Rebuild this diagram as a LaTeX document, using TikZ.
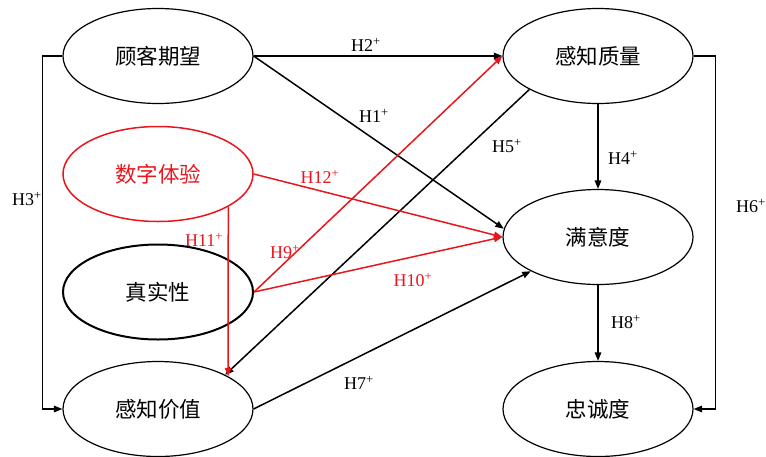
\documentclass[tikz,border=0pt]{standalone}
\usepackage{fontspec}
\setmainfont{Liberation Serif}
\newfontfamily\cjk{Noto Sans CJK SC}
\usetikzlibrary{shapes.geometric,arrows.meta}
\definecolor{myred}{RGB}{232,22,28}
\begin{document}
\begin{tikzpicture}[x=1pt,y=-1pt,
  var/.style={ellipse,draw,line width=1.2pt,minimum width=190pt,minimum height=95pt,inner sep=0pt,font=\cjk\fontsize{21.5}{24}\selectfont},
  lnk/.style={line width=1.5pt,-{Triangle[length=8.5pt,width=6.5pt]}},
  redlnk/.style={lnk,draw=myred},
  hl/.style={inner sep=0pt,font=\fontsize{18}{20}\selectfont}
]
\useasboundingbox (0,0) rectangle (766,456);
\node[var] (qw) at (158,56) {\raisebox{-2pt}{顾客期望}};
\node[var,draw=myred,text=myred,line width=1.5pt] (dx) at (158,174) {\raisebox{-2pt}{数字体验}};
\node[var,line width=2pt] (zs) at (158,292) {\raisebox{-2pt}{真实性}};
\node[var] (pv) at (158,409) {\raisebox{-2pt}{感知价值}};
\node[var] (pq) at (598,56) {\raisebox{-2pt}{感知质量}};
\node[var] (sat) at (598,237) {\raisebox{-2pt}{满意度}};
\node[var] (ly) at (598,409) {\raisebox{-2pt}{忠诚度}};
% connectors
\draw[lnk,-] (qw.west) -- ++(-20,0) coordinate (h3a);
\draw[lnk] (h3a) |- (pv.west);
\draw[lnk] (qw.east) -- (pq.west);
\draw[lnk] (qw.east) -- (sat.175);
\draw[lnk] (pq.206) -- (pv.27);
\draw[lnk] (pq.south) -- (sat.north);
\draw[lnk,-] (pq.east) -- ++(22,0) coordinate (h6a);
\draw[lnk] (h6a) |- (ly.east);
\draw[lnk] (pv.east) -- (sat.207);
\draw[lnk] (sat.south) -- (ly.north);
\draw[redlnk] (dx.east) -- (sat.west);
\draw[redlnk] (dx.-25.3) -- (pv.25.3);
\draw[redlnk] (zs.east) -- (pq.west);
\draw[redlnk] (zs.east) -- (sat.west);
% labels
\node[hl] (l3) at (27,199) {H3\textsuperscript{+}};
\node[hl] (l2) at (366,45) {H2\textsuperscript{+}};
\node[hl] (l1) at (374,116) {H1\textsuperscript{+}};
\node[hl,text=myred] (l12) at (320,177) {H12\textsuperscript{+}};
\node[hl] (l5) at (507,146) {H5\textsuperscript{+}};
\node[hl] (l4) at (623,158) {H4\textsuperscript{+}};
\node[hl] (l6) at (751,206) {H6\textsuperscript{+}};
\node[hl,text=myred] (l11) at (204,240) {H11\textsuperscript{+}};
\node[hl,text=myred] (l9) at (285,252) {H9\textsuperscript{+}};
\node[hl,text=myred] (l10) at (413,280) {H10\textsuperscript{+}};
\node[hl] (l7) at (359,383) {H7\textsuperscript{+}};
\node[hl] (l8) at (626,322) {H8\textsuperscript{+}};
\end{tikzpicture}
\end{document}
